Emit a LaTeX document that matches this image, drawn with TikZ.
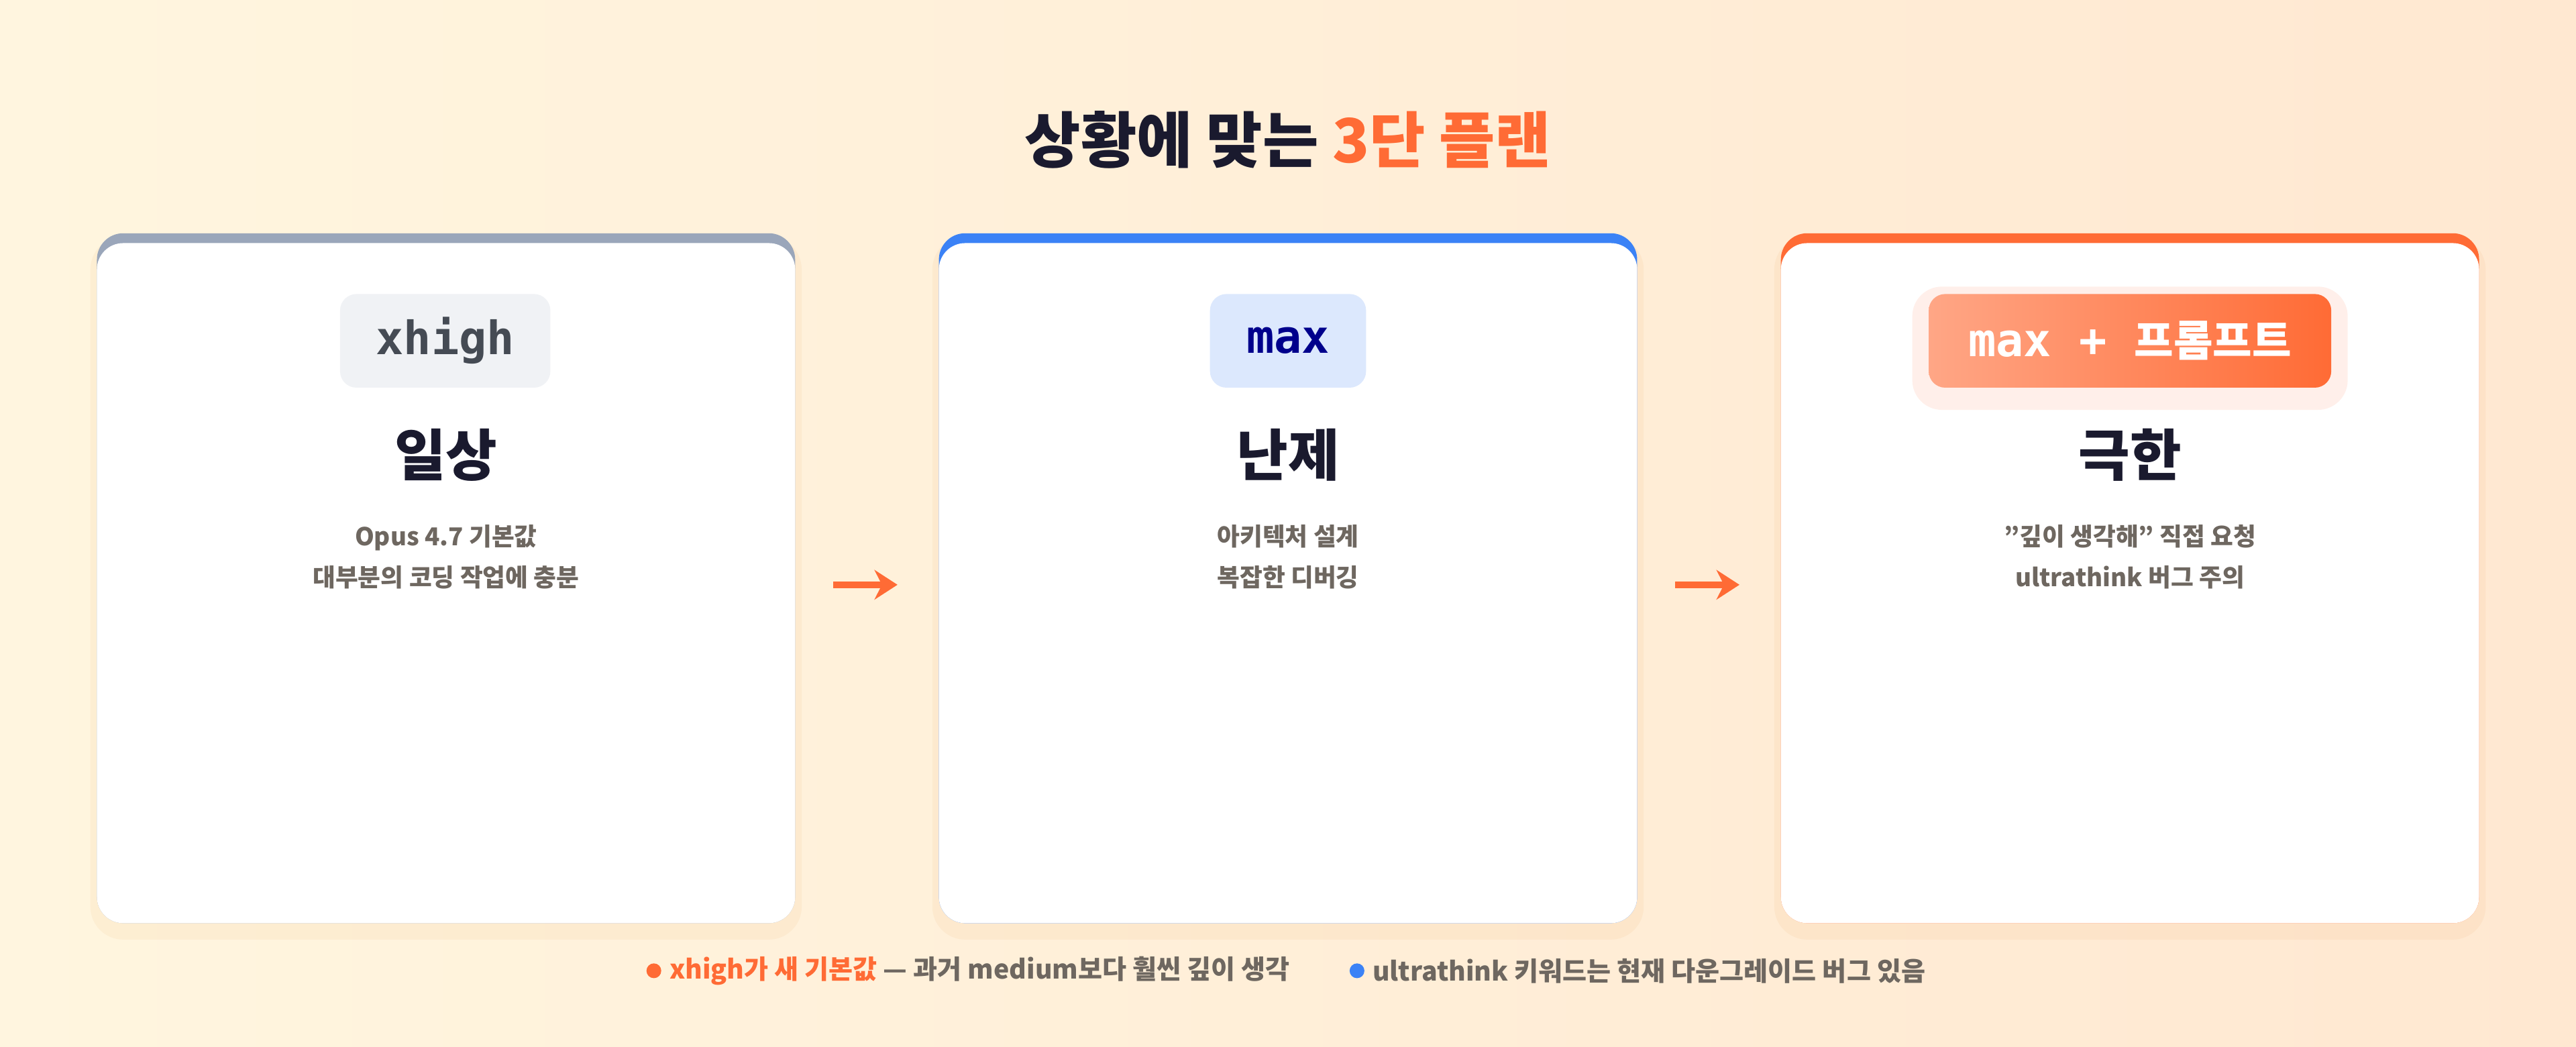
\documentclass[tikz,border=0pt]{standalone}
\usepackage{fontspec}
\setmainfont{Noto Sans CJK KR}
\newfontfamily\monofont{DejaVu Sans Mono}
\usetikzlibrary{positioning,arrows.meta}
\definecolor{ink}{HTML}{1A1A2E}
\definecolor{bodygray}{HTML}{6E6760}
\definecolor{accent}{HTML}{FF6B35}
\definecolor{slatetop}{HTML}{9AA6BA}
\definecolor{bluetop}{HTML}{3B82F6}
\tikzset{
  cardbox/.style={fill=white,rounded corners=16pt,minimum width=425pt,minimum height=414pt,inner sep=0pt},
  topbar/.style={rounded corners=16pt,minimum width=425pt,minimum height=420pt,inner sep=0pt},
  softshadow/.style={fill=orange!60!brown,opacity=0.06,rounded corners=20pt,minimum width=433pt,minimum height=428pt,inner sep=0pt},
  pill/.style={rounded corners=10pt,minimum height=57pt,inner sep=0pt,font=\monofont\bfseries\fontsize{28}{32}\selectfont},
  headline/.style={font=\bfseries\fontsize{34}{40}\selectfont,text=ink},
  bodytext/.style={font=\bfseries\fontsize{15}{25}\selectfont,text=bodygray,align=center},
  flow/.style={-{Stealth[length=14pt,width=18pt]},line width=4pt,accent,shorten <=23pt,shorten >=25pt},
  footnote/.style={font=\bfseries\fontsize{16}{18}\selectfont,text=bodygray,anchor=west}
}
\begin{document}
\begin{tikzpicture}[x=1pt,y=-1pt]
\shade[left color=orange!8!white!95!yellow,right color=orange!18!white] (0,0) rectangle (1568,637);
\useasboundingbox (0,0) rectangle (1568,637);

\node[headline,font=\bfseries\fontsize{37}{42}\selectfont] (title) at (784,85) {상황에 맞는 \textcolor{accent}{3단 플랜}};

% cards
\node[softshadow] (shade1) at (271.5,358) {};
\node[softshadow] (shade2) at (784,358) {};
\node[softshadow] (shade3) at (1296.5,358) {};
\node[topbar,fill=slatetop] (bar1) at (271.5,352) {};
\node[topbar,fill=bluetop] (bar2) at (784,352) {};
\node[topbar,fill=accent] (bar3) at (1296.5,352) {};
\node[cardbox] (card1) at (271.5,355) {};
\node[cardbox] (card2) at (784,355) {};
\node[cardbox] (card3) at (1296.5,355) {};

% pills
\node[pill,fill=slatetop!15!white,text=slatetop!45!black,minimum width=128pt] (tag1) at (271,207.5) {xhigh};
\node[pill,fill=bluetop!18!white,text=blue!55!black,minimum width=95pt] (tag2) at (784,207.5) {max};
\node[fill=accent,opacity=0.10,rounded corners=18pt,minimum width=265pt,minimum height=75pt] (glow3) at (1296.5,212) {};
\node[pill,left color=accent!60!white,right color=accent,text=white,minimum width=245pt] (tag3) at (1296.5,207.5)
  {max + {\setmainfont{Noto Sans CJK KR}\bfseries\fontsize{26}{30}\selectfont 프롬프트}};

% headings
\node[headline] (head1) at (271.5,277) {일상};
\node[headline] (head2) at (784,277) {난제};
\node[headline] (head3) at (1296.5,277) {극한};

% descriptions
\node[bodytext] (desc1) at (271.5,339) {Opus 4.7 기본값\\대부분의 코딩 작업에 충분};
\node[bodytext] (desc2) at (784,339) {아키텍처 설계\\복잡한 디버깅};
\node[bodytext] (desc3) at (1296.5,339) {\char"22 깊이 생각해\char"22{} 직접 요청\\ultrathink 버그 주의};

% arrows
\coordinate (a1) at (card1.east |- 0,356);
\coordinate (b1) at (card2.west |- 0,356);
\coordinate (a2) at (card2.east |- 0,356);
\coordinate (b2) at (card3.west |- 0,356);
\draw[flow] (a1) -- (b1);
\draw[flow] (a2) -- (b2);

% footer
\fill[accent] (398,591) circle (4.5pt);
\node[footnote] (note1) at (404,591) {\textcolor{accent}{xhigh가 새 기본값} — 과거 medium보다 훨씬 깊이 생각};
\fill[bluetop] (826,591) circle (4.5pt);
\node[footnote] (note2) at (832,591) {ultrathink 키워드는 현재 다운그레이드 버그 있음};
\end{tikzpicture}
\end{document}
